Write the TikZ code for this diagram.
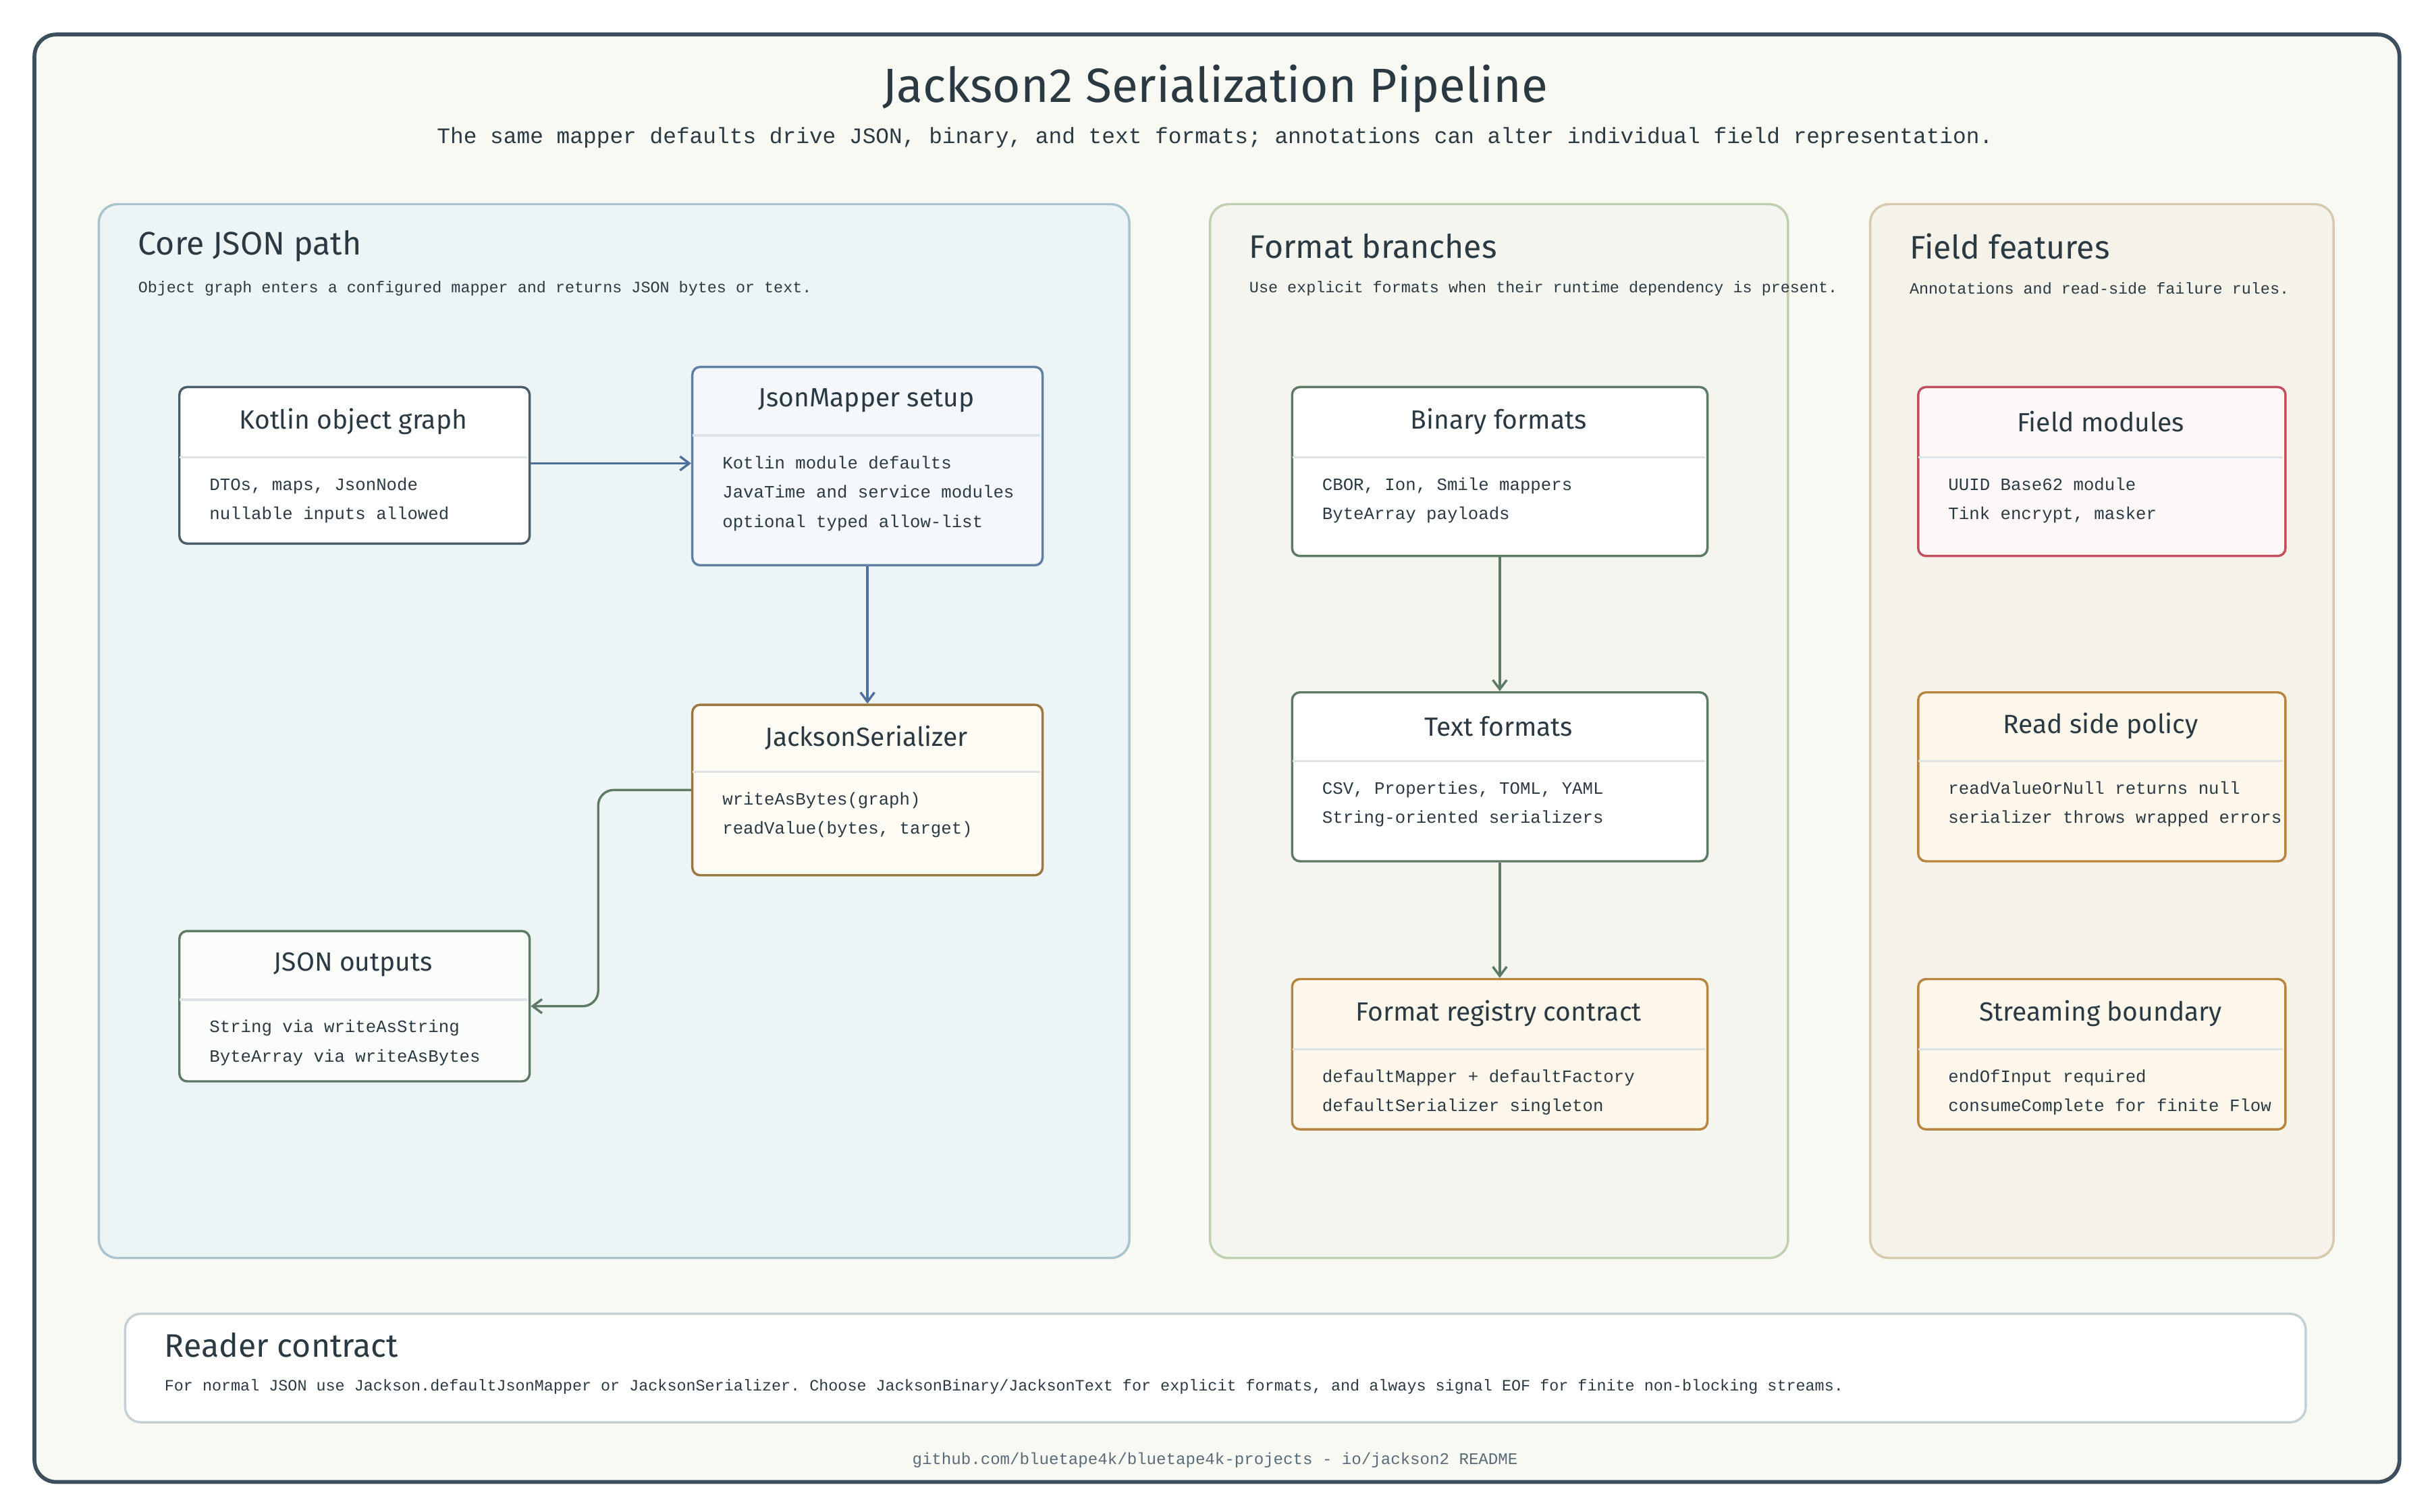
\documentclass[tikz,border=0pt]{standalone}
\usepackage{fontspec}
\setmainfont{Fira Sans}
\setmonofont{Liberation Mono}
\usetikzlibrary{arrows.meta}
\definecolor{ink}{HTML}{2B3A42}
\definecolor{frame}{HTML}{3D4F5C}
\definecolor{bg}{HTML}{F9F9F4}
\definecolor{divc}{HTML}{DDE3E6}
\definecolor{slate}{HTML}{4A5D6B}
\definecolor{blue}{HTML}{5F7FA3}
\definecolor{blueA}{HTML}{4E6F9A}
\definecolor{green}{HTML}{5C7A64}
\definecolor{brown}{HTML}{9A7840}
\definecolor{amber}{HTML}{B8853F}
\definecolor{rose}{HTML}{C0505E}
\definecolor{p1fill}{HTML}{EDF4F5}
\definecolor{p1line}{HTML}{A9C4CC}
\definecolor{p2fill}{HTML}{F3F5EE}
\definecolor{p2line}{HTML}{C0CFB0}
\definecolor{p3fill}{HTML}{F5F2EA}
\definecolor{p3line}{HTML}{D6C9AD}
\definecolor{bluefill}{HTML}{F4F8FC}
\definecolor{brownfill}{HTML}{FFFCF5}
\definecolor{greenfill}{HTML}{FBFDFB}
\definecolor{amberfill}{HTML}{FDF6EA}
\definecolor{rosefill}{HTML}{FDF8F7}
\definecolor{rcline}{HTML}{C5D0D4}
\definecolor{footc}{HTML}{5A6B78}
\tikzset{
  card/.style={draw,line width=1.5pt,rounded corners=5pt,anchor=north west,inner sep=0pt},
  divider/.style={draw=divc,line width=1.5pt},
  cardtitle/.style={text=ink,font=\fontsize{17}{20}\selectfont,inner sep=0pt},
  cardbody/.style={text=ink,font=\fontsize{11.2}{19}\ttfamily\selectfont,align=left,anchor=north west,inner sep=0pt},
  panel/.style={draw,line width=1.5pt,rounded corners=12pt,anchor=north west,inner sep=0pt},
  ptitle/.style={text=ink,font=\fontsize{21}{24}\selectfont,anchor=west,inner sep=0pt},
  psub/.style={text=ink,font=\fontsize{10.2}{12}\ttfamily\selectfont,anchor=west,inner sep=0pt},
  arr/.style={line width=1.5pt,-{Straight Barb[length=6pt,width=9pt]}},
}
\newcommand\card[9]{%
  \node[card,#7,minimum width={(#4-#2)*1pt},minimum height={(#5-#3)*1pt}] (#1) at (#2,#3) {};
  \draw[divider] (#2+1,#6) -- (#4-1,#6);
  \node[cardtitle] (#1-t) at ({(#2+#4)/2},{(#3+#6)/2}) {#8};
  \node[cardbody] (#1-b) at (#2+20,#6+13) {#9};
}
\begin{document}
\begin{tikzpicture}[x=1pt,y=-1pt]
\useasboundingbox (0,0) rectangle (1568,975.6);
\fill[white] (0,0) rectangle (1568,975.6);
\node[panel,draw=frame,fill=bg,line width=2.5pt,rounded corners=14pt,minimum width=1526pt,minimum height=934pt] (outer) at (21,21) {};
\node[text=ink,font=\fontsize{31}{36}\selectfont] (title) at (784,57) {Jackson2 Serialization Pipeline};
\node[text=ink,font=\fontsize{14.3}{18}\ttfamily\selectfont] (sub) at (784,89) {The same mapper defaults drive JSON, binary, and text formats; annotations can alter individual field representation.};

\node[panel,fill=p1fill,draw=p1line,minimum width=665pt,minimum height=680pt] (p1) at (63,131) {};
\node[panel,fill=p2fill,draw=p2line,minimum width=373pt,minimum height=680pt] (p2) at (780,131) {};
\node[panel,fill=p3fill,draw=p3line,minimum width=299pt,minimum height=680pt] (p3) at (1206,131) {};
\node[ptitle] (p1t) at (89,159) {Core JSON path};
\node[psub] (p1s) at (89,186) {Object graph enters a configured mapper and returns JSON bytes or text.};
\node[ptitle] (p2t) at (806,159) {Format branches};
\node[psub] (p2s) at (806,186) {Use explicit formats when their runtime dependency is present.};
\node[ptitle] (p3t) at (1232,159) {Field features};
\node[psub] (p3s) at (1232,186) {Annotations and read-side failure rules.};

\card{kog}{115}{249}{341}{350}{295}{draw=slate,fill=white}{Kotlin object graph}{DTOs, maps, JsonNode\\nullable inputs allowed}
\card{jm}{446}{236}{672}{364}{281}{draw=blue,fill=bluefill}{JsonMapper setup}{Kotlin module defaults\\JavaTime and service modules\\optional typed allow-list}
\card{js}{446}{454}{672}{564}{498}{draw=brown,fill=brownfill}{JacksonSerializer}{writeAsBytes(graph)\\readValue(bytes, target)}
\card{jo}{115}{600}{341}{697}{645}{draw=green,fill=greenfill}{JSON outputs}{String via writeAsString\\ByteArray via writeAsBytes}
\card{bf}{833}{249}{1101}{358}{295}{draw=green,fill=white}{Binary formats}{CBOR, Ion, Smile mappers\\ByteArray payloads}
\card{tf}{833}{446}{1101}{555}{491}{draw=green,fill=white}{Text formats}{CSV, Properties, TOML, YAML\\String-oriented serializers}
\card{fr}{833}{631}{1101}{728}{677}{draw=amber,fill=amberfill}{Format registry contract}{defaultMapper + defaultFactory\\defaultSerializer singleton}
\card{fm}{1237}{249}{1474}{358}{295}{draw=rose,fill=rosefill}{Field modules}{UUID Base62 module\\Tink encrypt, masker}
\card{rs}{1237}{446}{1474}{555}{491}{draw=amber,fill=amberfill}{Read side policy}{readValueOrNull returns null\\serializer throws wrapped errors}
\card{sb}{1237}{631}{1474}{728}{677}{draw=amber,fill=amberfill}{Streaming boundary}{endOfInput required\\consumeComplete for finite Flow}

\draw[arr,draw=blueA] (kog.east |- 0,299) -- (jm.west |- 0,299);
\draw[arr,draw=blueA] (jm.south) -- (js.north);
\draw[arr,draw=green,rounded corners=10pt] (js.west) -- ++(-60,0) |- (jo.east);
\draw[arr,draw=green] (bf.south) -- (tf.north);
\draw[arr,draw=green] (tf.south) -- (fr.north);

\node[panel,fill=white,draw=rcline,minimum width=1407pt,minimum height=70pt,rounded corners=10pt] (rc) at (80,847) {};
\node[ptitle] (rct) at (106,868) {Reader contract};
\node[psub] (rcs) at (106,895) {For normal JSON use Jackson.defaultJsonMapper or JacksonSerializer. Choose JacksonBinary/JacksonText for explicit formats, and always signal EOF for finite non-blocking streams.};
\node[text=footc,font=\fontsize{10.5}{12}\ttfamily\selectfont] (foot) at (784,942) {github.com/bluetape4k/bluetape4k-projects - io/jackson2 README};
\end{tikzpicture}
\end{document}
